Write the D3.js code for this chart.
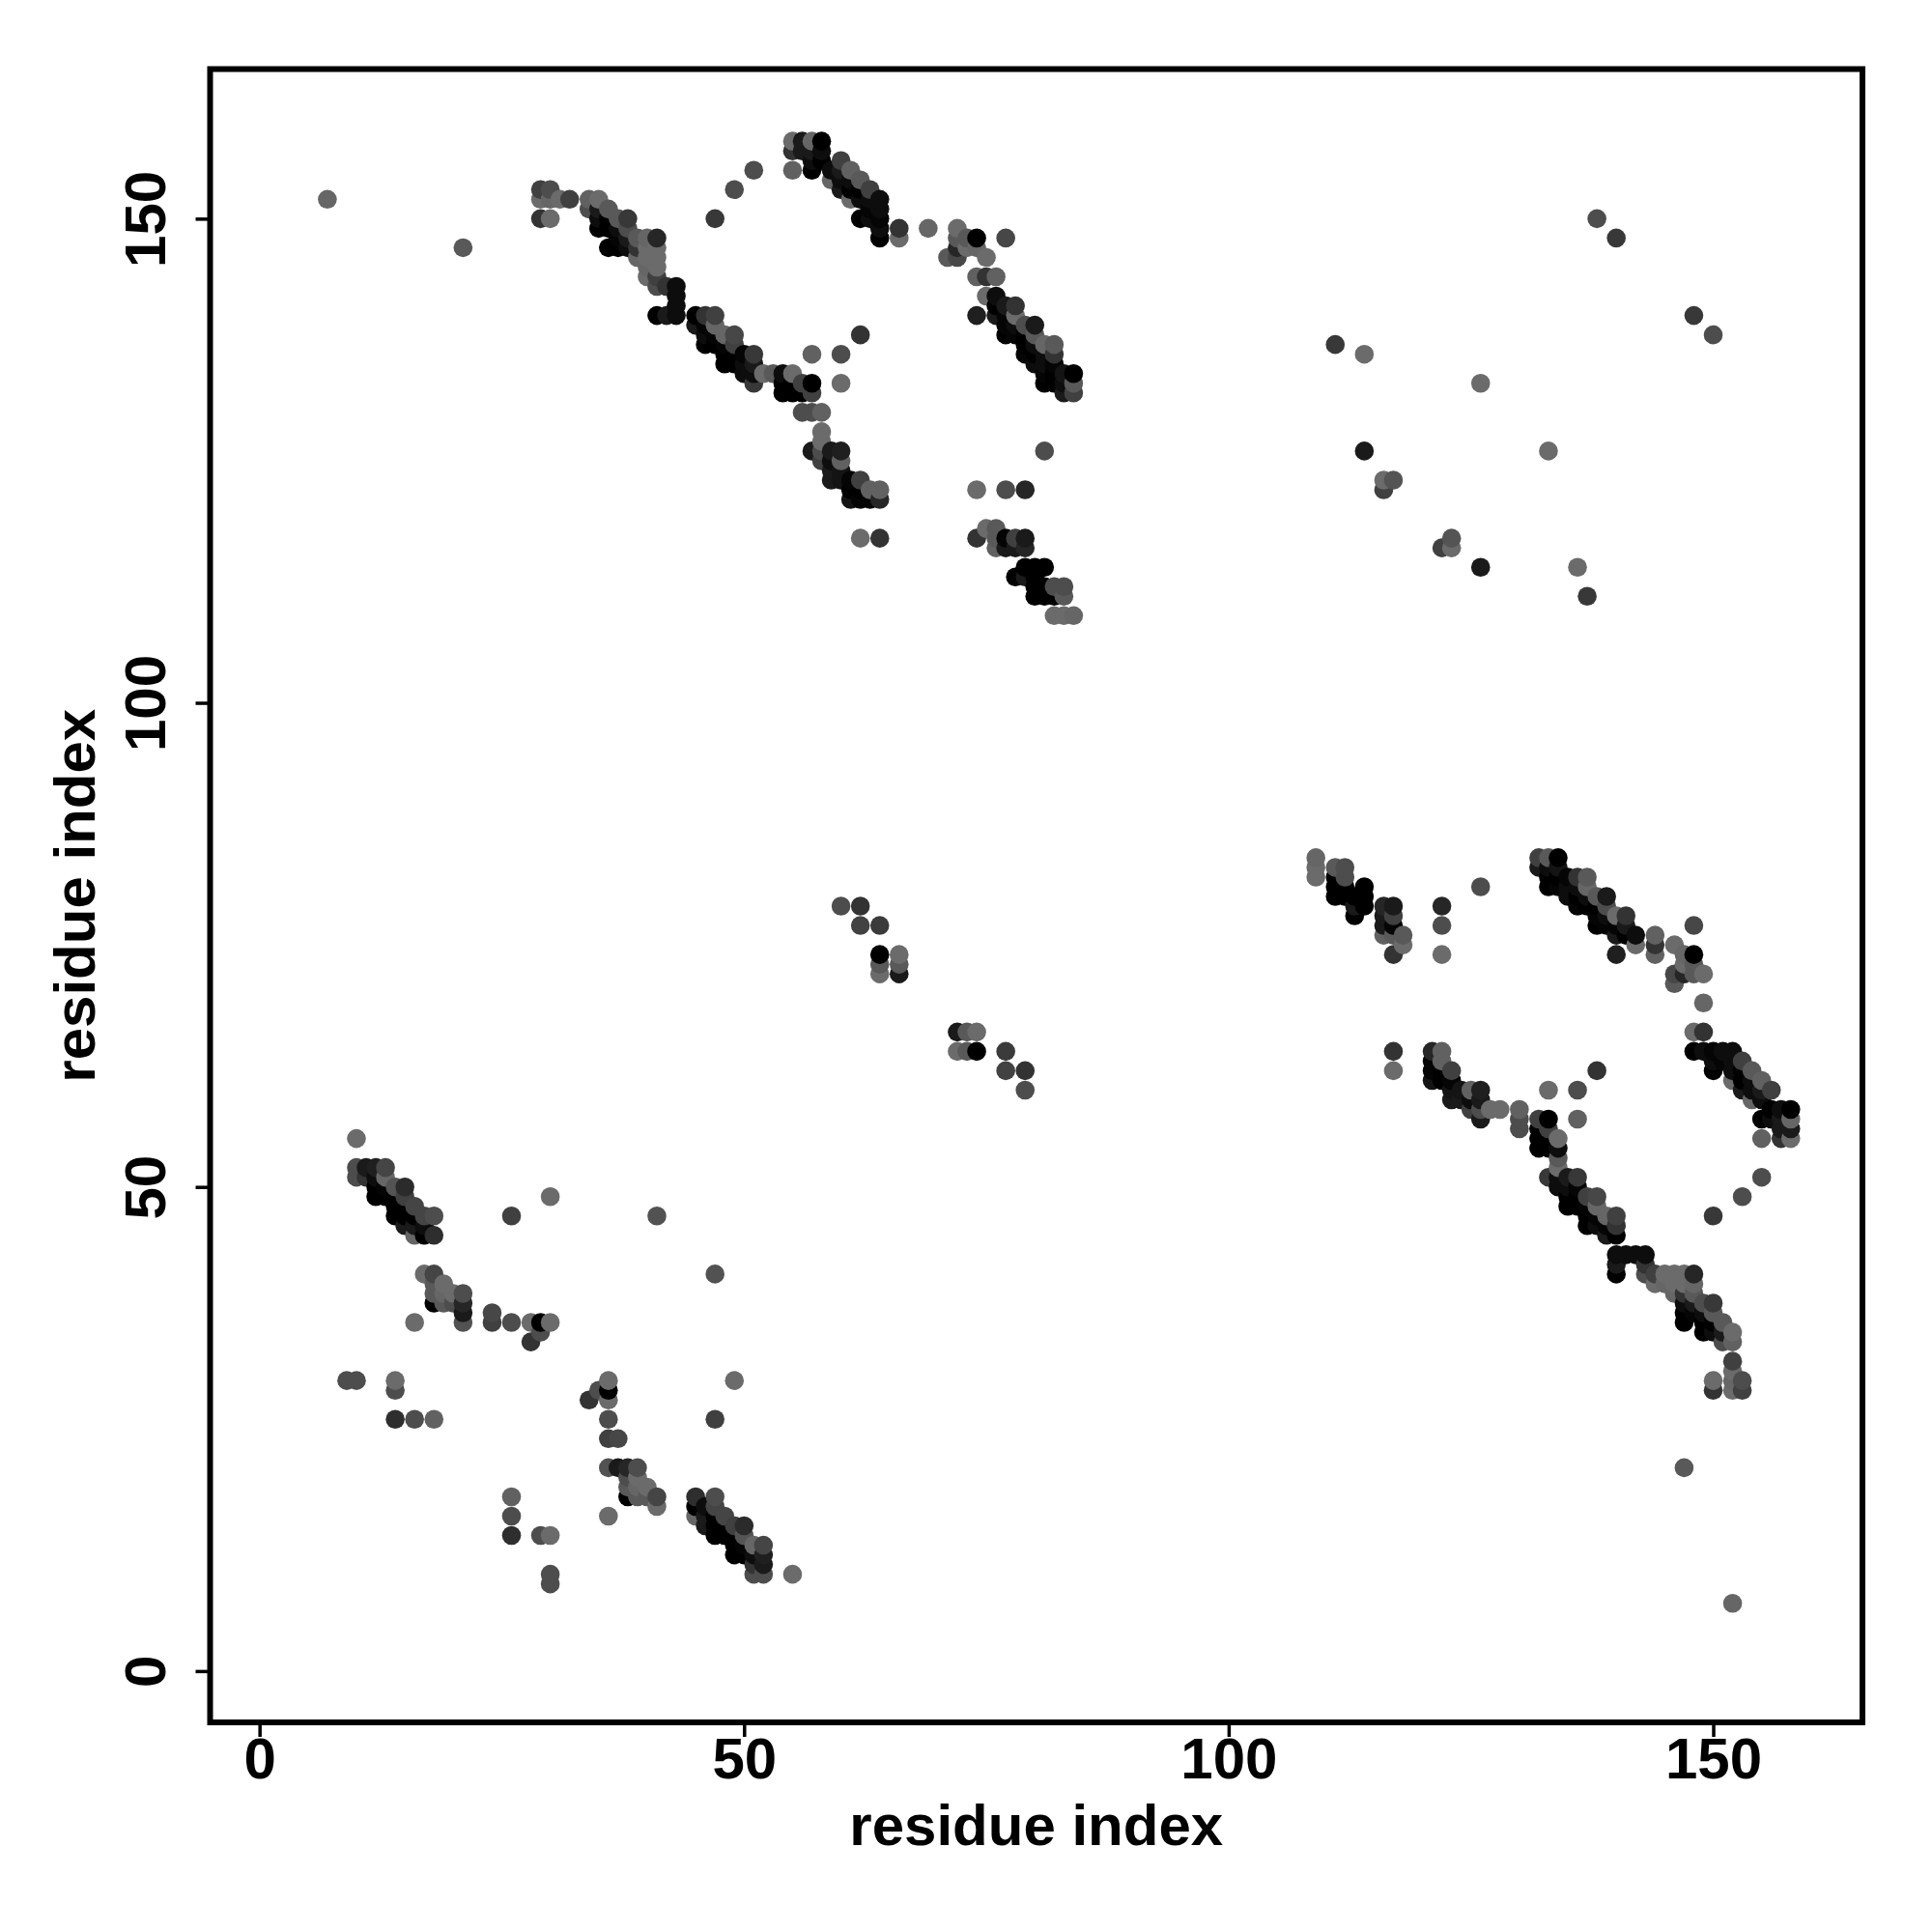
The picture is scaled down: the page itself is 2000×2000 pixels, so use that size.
<!DOCTYPE html>
<html>
<head>
<meta charset="utf-8">
<script src="https://cdn.jsdelivr.net/npm/d3@7/dist/d3.min.js"></script>
<style>
html,body{margin:0;padding:0;background:#fff}
svg{display:block}
text{font-family:"Liberation Sans",Arial,sans-serif;font-weight:700;fill:#000}
</style>
</head>
<body>
<svg id="chart" width="2000" height="2000"></svg>
<script>
// Each contact is [residue i, residue j, grey percent]; the map is symmetric, so only i<j is listed.
const strandA = [[10,51,30],[10,52,30],[11,51,20],[11,52,10],[12,49,0],[12,50,0],[12,51,5],[12,52,12],[13,49,0],[13,50,2],[13,51,40],[13,52,27],[14,47,0],[14,48,0],[14,49,0],[14,50,33],[15,46,10],[15,47,0],[15,48,0],[15,49,25],[15,50,17],[16,45,40],[16,46,10],[16,47,0],[16,48,27],[17,45,0],[17,46,5],[17,47,27],[18,45,18],[18,47,30]];
const strandB = [[17,41,42],[18,38,0],[18,39,35],[18,40,35],[18,41,27],[19,38,35],[19,39,40],[19,40,42],[20,38,30],[20,39,42],[21,36,32],[21,37,10],[21,38,15],[21,39,30],[16,36,42],[24,36,25],[24,37,28],[26,36,30],[28,34,20],[28,36,42],[29,35,30],[29,36,0],[30,36,42]];
const scatterA = [[7,152,40],[21,147,35],[10,55,42],[26,47,25],[30,49,42],[41,47,32],[9,30,30],[10,30,30],[14,26,18],[14,29,30],[14,30,42],[16,26,30],[18,26,38],[47,150,22],[49,153,30],[51,155,30],[55,155,38],[69,149,40],[77,148,28],[57,136,38],[60,136,30],[60,133,42],[62,138,20],[62,117,42],[64,117,20],[74,122,42],[77,122,30],[79,122,15],[81,126,30]];
const strandC = [[29,150,20],[29,152,42],[29,153,25],[30,150,42],[30,152,40],[30,153,30],[31,152,42],[32,152,25],[34,151,30],[34,152,38],[35,149,0],[35,150,5],[35,151,10],[35,152,42],[36,147,0],[36,149,0],[36,150,0],[36,151,35],[37,147,0],[37,148,2],[37,149,5],[37,150,35],[38,147,5],[38,148,10],[38,149,30],[38,150,22],[39,146,40],[39,147,20],[39,148,35],[40,144,42],[40,145,40],[40,146,42],[40,147,42],[40,148,40],[41,140,0],[41,143,30],[41,144,25],[41,145,42],[41,146,42],[41,147,42],[41,148,15],[42,140,10],[42,143,20],[43,140,5],[43,141,5],[43,142,5],[43,143,5]];
const strandD = [[45,139,10],[45,140,0],[46,137,0],[46,138,5],[46,139,2],[46,140,20],[47,137,0],[47,138,2],[47,139,40],[47,140,25],[48,135,0],[48,136,0],[48,137,2],[48,138,40],[49,135,0],[49,136,0],[49,137,25],[49,138,28],[50,134,5],[50,135,5],[50,136,2],[51,133,22],[51,134,5],[51,135,10],[51,136,22],[52,134,42],[53,134,35],[54,132,0],[54,133,0],[54,134,5],[55,132,0],[55,133,0],[55,134,42],[56,130,30],[56,132,0],[56,133,25],[57,126,10],[57,130,30],[57,132,25],[57,133,0],[58,125,25],[58,126,30],[58,127,42],[58,128,42],[58,130,38],[59,123,10],[59,124,10],[59,125,5],[59,126,10],[60,123,8],[60,124,8],[60,125,38],[60,126,12],[61,121,8],[61,122,0],[61,123,2],[62,121,2],[62,122,0],[62,123,25],[63,121,2],[63,122,38],[64,121,15],[64,122,38]];
const strandE = [[55,157,20],[55,158,42],[56,157,10],[56,158,10],[57,155,0],[57,156,5],[57,157,10],[57,158,40],[58,156,0],[58,157,5],[58,158,0],[59,154,40],[59,155,5],[60,153,10],[60,154,5],[60,155,10],[60,156,25],[61,152,42],[61,153,0],[61,154,5],[61,155,38],[62,150,0],[62,152,5],[62,153,0],[62,154,35],[63,150,5],[63,151,2],[63,152,5],[63,153,25],[64,148,0],[64,149,5],[64,150,2],[64,151,5],[64,152,5],[66,148,42],[66,149,20]];
const strandF = [[71,146,35],[72,146,28],[72,147,15],[72,148,35],[72,149,42],[73,147,42],[73,148,35],[74,147,40],[74,148,0],[75,146,42],[74,144,38],[75,144,20],[76,144,38],[74,140,12],[75,142,42],[76,140,10],[76,141,0],[76,142,5],[77,138,0],[77,139,2],[77,140,2],[77,141,10],[78,138,2],[78,139,5],[78,140,42],[78,141,20],[79,136,2],[79,137,0],[79,138,0],[79,139,30],[80,135,5],[80,136,0],[80,137,5],[80,138,35],[80,139,10],[81,133,0],[81,134,2],[81,135,5],[81,136,5],[81,137,40],[82,133,0],[82,134,0],[82,135,2],[82,136,20],[82,137,35],[83,132,10],[83,133,5],[83,134,8],[84,132,25],[84,133,35],[84,134,0]];
const strandG = [[74,117,20],[75,118,42],[76,116,38],[76,117,35],[76,118,35],[77,116,10],[77,117,2],[78,116,10],[78,117,25],[79,116,15],[79,117,10],[78,113,0],[79,113,10],[79,114,0],[80,111,0],[80,112,0],[80,113,0],[80,114,0],[81,111,0],[81,112,0],[81,114,0],[82,111,0],[82,112,30],[82,109,42],[83,109,42],[83,111,35],[83,112,30],[84,109,40]];
const blockH = [[60,79,30],[62,77,26],[62,79,20],[64,72,42],[64,73,35],[64,74,0],[64,77,23],[66,72,10],[66,73,35],[66,74,42]];
const blockI = [[111,137,22],[114,126,10],[114,136,42],[116,122,25],[116,123,42],[117,123,33],[126,133,42],[138,150,30],[140,148,22]];
const contacts = [strandA, strandB, scatterA, strandC, strandD, strandE, strandF, strandG, blockH, blockI];
const xTickValues = [0, 50, 100, 150];
const yTickValues = [0, 50, 100, 150];
const xLabel = "residue index";
const yLabel = "residue index";

const svg = d3.select("#chart");
const frameLeft = 217.5, frameRight = 1928, frameTop = 71.5, frameBottom = 1783;
const x = d3.scaleLinear().domain([-5.1, 165.4]).range([frameLeft, frameRight]);
const y = d3.scaleLinear().domain([-5.3, 165.45]).range([frameBottom, frameTop]);
const grey = d3.scaleLinear().domain([0, 100]).range(["#000000", "#ffffff"]);

const upper = contacts.flat();
const points = upper.concat(upper.map(d => [d[1], d[0], d[2]]))
  .sort((a, b) => d3.ascending(a[0], b[0]) || d3.ascending(a[1], b[1]));

svg.append("g").selectAll("circle").data(points).join("circle")
  .attr("cx", d => x(d[0]))
  .attr("cy", d => y(d[1]))
  .attr("r", 9.8)
  .attr("fill", d => grey(d[2]));

const xAxis = svg.append("g").attr("transform", `translate(0,${frameBottom})`)
  .call(d3.axisBottom(x).tickValues(xTickValues).tickSize(15).tickFormat(d3.format("d")));
const yAxis = svg.append("g").attr("transform", `translate(${frameLeft},0)`)
  .call(d3.axisLeft(y).tickValues(yTickValues).tickSize(15).tickFormat(d3.format("d")));
[xAxis, yAxis].forEach(a => {
  a.select(".domain").remove();
  a.selectAll("line").attr("stroke", "#000").attr("stroke-width", 3.5);
  a.selectAll("text").attr("font-size", 60).attr("dy", null).attr("x", null).attr("y", null);
});
xAxis.selectAll("text").attr("text-anchor", "middle").attr("transform", "translate(0,58)");
yAxis.selectAll("text").attr("text-anchor", "middle").attr("transform", "translate(-47,0) rotate(-90)");

svg.append("rect").attr("x", frameLeft).attr("y", frameTop)
  .attr("width", frameRight - frameLeft).attr("height", frameBottom - frameTop)
  .attr("fill", "none").attr("stroke", "#000").attr("stroke-width", 6);

svg.append("text").attr("x", (frameLeft + frameRight) / 2).attr("y", 1910)
  .attr("text-anchor", "middle").attr("font-size", 60).text(xLabel);
svg.append("text").attr("transform", `translate(98,${(frameTop + frameBottom) / 2}) rotate(-90)`)
  .attr("text-anchor", "middle").attr("font-size", 60).text(yLabel);
</script>
</body>
</html>
